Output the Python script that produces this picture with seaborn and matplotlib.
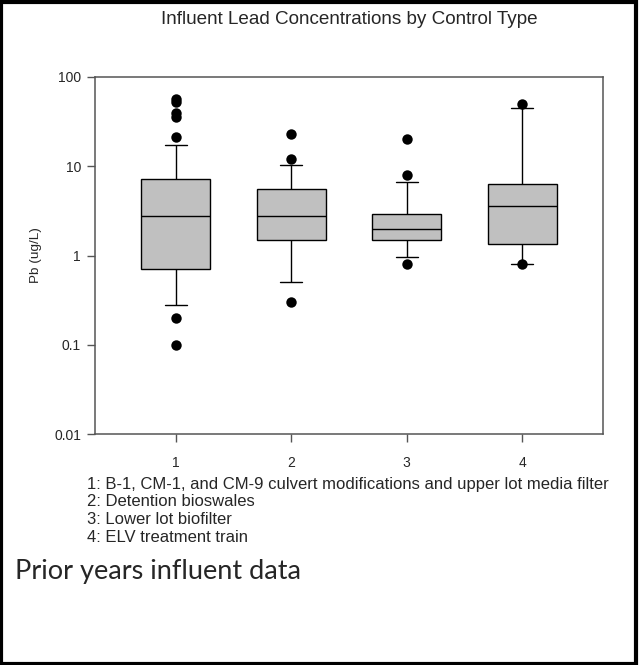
import matplotlib
matplotlib.use("Agg")
import matplotlib.pyplot as plt
from matplotlib.patches import Rectangle
from matplotlib.ticker import NullLocator
import pandas as pd
import seaborn as sns

# Box summaries per control type (ug/L)
groups = ["1", "2", "3", "4"]
whisker_low = [0.28, 0.51, 0.95, 0.81]
quartile_1 = [0.70, 1.50, 1.50, 1.33]
medians = [2.80, 2.75, 2.00, 3.55]
quartile_3 = [7.2, 5.5, 2.95, 6.3]
whisker_high = [17.5, 10.2, 6.7, 45.0]

# Points beyond the whiskers
outlier_group = ["1", "1", "1", "1", "1", "1", "1",
                 "2", "2", "2",
                 "3", "3", "3",
                 "4", "4"]
outlier_value = [0.1, 0.2, 21, 36, 40, 52, 57,
                 0.3, 12, 23,
                 0.81, 8, 20,
                 0.81, 50]

legend_lines = [
    "1: B-1, CM-1, and CM-9 culvert modifications and upper lot media filter",
    "2: Detention bioswales",
    "3: Lower lot biofilter",
    "4: ELV treatment train",
]

sns.set_style("ticks")
plt.rcParams["font.family"] = ["Liberation Sans", "DejaVu Sans"]

# five-number summary per group; with whis=(0, 100) the box spans q1..q3
# and the whiskers reach the low/high values exactly
rows = []
for g, lo, a, m, b, hi in zip(groups, whisker_low, quartile_1, medians,
                              quartile_3, whisker_high):
    for v in (lo, a, m, b, hi):
        rows.append({"group": g, "value": v})
summary = pd.DataFrame(rows)
fliers = pd.DataFrame({"group": outlier_group, "value": outlier_value})

W, H = 639, 665
fig = plt.figure(figsize=(W / 100, H / 100), dpi=100)
ax = fig.add_axes([95 / W, 1 - 434 / H, (603 - 95) / W, (434 - 77) / H])
ax.set_yscale("log")

sns.boxplot(data=summary, x="group", y="value", order=groups, whis=(0, 100),
            width=0.6, color="#C0C0C0", saturation=1, linecolor="black",
            linewidth=1.0, fliersize=0, capwidths=0.19, ax=ax)
sns.stripplot(data=fliers, x="group", y="value", order=groups, jitter=False,
              color="black", size=7.5, linewidth=0, zorder=5, ax=ax)

ax.set_xlim(-0.7, 3.7)
ax.set_ylim(0.01, 100)
ax.set_yticks([0.01, 0.1, 1, 10, 100])
ax.set_yticklabels(["0.01", "0.1", "1", "10", "100"])
ax.yaxis.set_minor_locator(NullLocator())
ax.set_xlabel("")
ax.set_ylabel("Pb (ug/L)", fontsize=9.7, labelpad=8.5)
ax.tick_params(axis="both", direction="out", length=6, width=1,
               color="#555555", labelsize=10, pad=4)
ax.tick_params(axis="x", pad=10)
for sp in ax.spines.values():
    sp.set_visible(True)
    sp.set_color("#555555")
    sp.set_linewidth(1.1)

fig.text(349 / W, 1 - 19 / H, "Influent Lead Concentrations by Control Type",
         ha="center", va="center", fontsize=13.6)

for i, line in enumerate(legend_lines):
    fig.text(87 / W, 1 - (484 + 18 * i) / H, line, ha="left", va="center",
             fontsize=12)

fig.text(15 / W, 1 - 572 / H, "Prior years influent data", ha="left",
         va="center", fontsize=19.5, family=["Lato", "DejaVu Sans"])

fig.patches.append(Rectangle((0.002, 0.002), 0.994, 0.995,
                             transform=fig.transFigure, fill=False,
                             edgecolor="black", linewidth=3))

fig.savefig("out.png", dpi=100)
